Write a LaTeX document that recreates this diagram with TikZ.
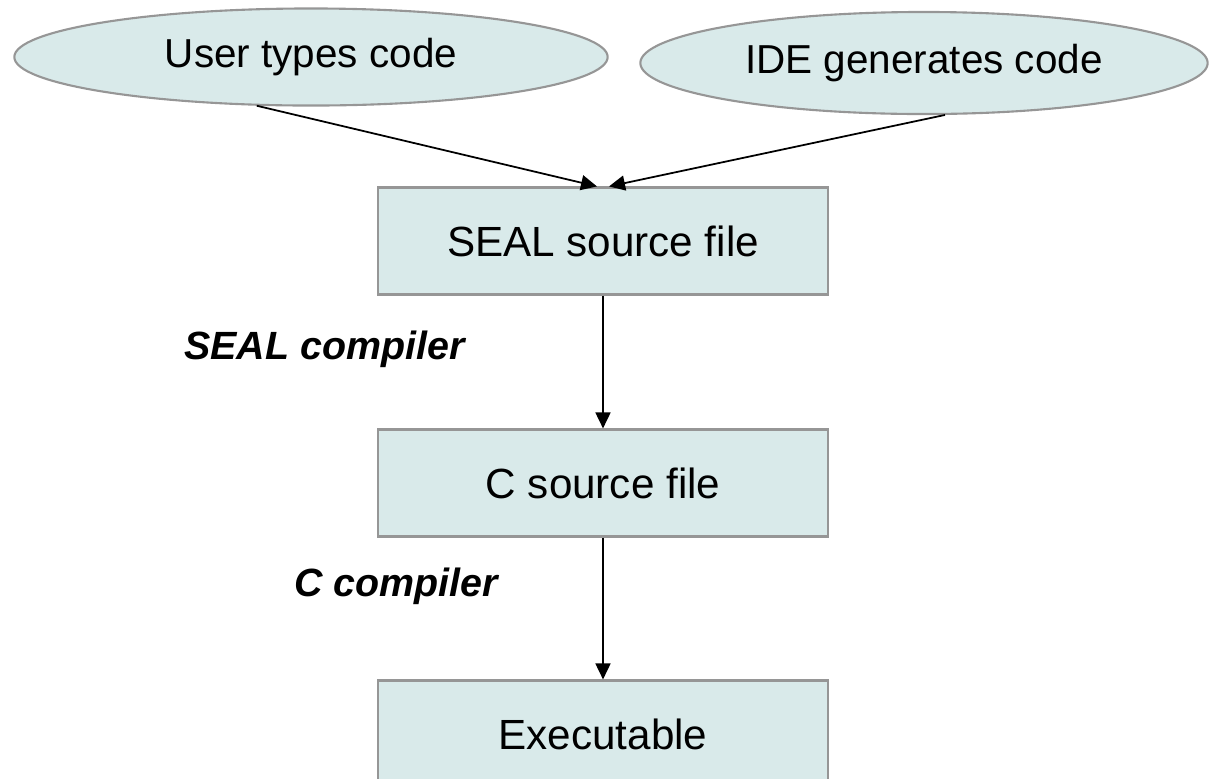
\documentclass[tikz,border=0pt]{standalone}
\usepackage{fontspec}
\setmainfont{Liberation Sans}
\usetikzlibrary{arrows.meta,positioning,shapes.geometric}
\definecolor{boxfill}{RGB}{217,234,234}
\definecolor{boxline}{RGB}{150,150,150}
\tikzset{
  filebox/.style={rectangle,draw=boxline,fill=boxfill,line width=0.6pt,
    minimum width=4.5cm,minimum height=1.07cm,font=\fontsize{12}{14}\selectfont},
  source/.style={ellipse,draw=boxline,fill=boxfill,line width=0.6pt,
    inner sep=0pt,font=\fontsize{11.5}{14}\selectfont},
  flow/.style={-{Triangle[length=1.6mm,width=1.5mm]},line width=0.5pt},
  steplabel/.style={anchor=west,font=\fontsize{11.2}{14}\selectfont\bfseries\itshape}
}
\begin{document}
\begin{tikzpicture}[x=0.01cm,y=-0.01cm]
  \useasboundingbox (0,0) rectangle (1209,778) ;

  \node[source,minimum width=5.93cm,minimum height=0.97cm] (user) at (311,57) {User types code} ;   %Draw user input
  \node[source,minimum width=5.67cm,minimum height=1.02cm] (ide) at (924,63) {IDE generates code} ; %Draw IDE input

  \node[filebox] (seal) at (603,241) {SEAL source file} ;
  \node[filebox] (csrc) at (603,483) {C source file} ;
  \node[filebox] (exe) at (603,734) {Executable} ;

  \draw[flow] (user.-138) -- ([xshift=-0.06cm]seal.north) ;
  \draw[flow] (ide.-68) -- ([xshift=0.06cm]seal.north) ;
  \draw[flow] (seal) -- (csrc) ;
  \draw[flow] (csrc) -- (exe) ;

  \node[steplabel] (sealc) at (172,349) {SEAL compiler} ;
  \node[steplabel] (cc) at (282,586) {C compiler} ;
\end{tikzpicture}
\end{document}
